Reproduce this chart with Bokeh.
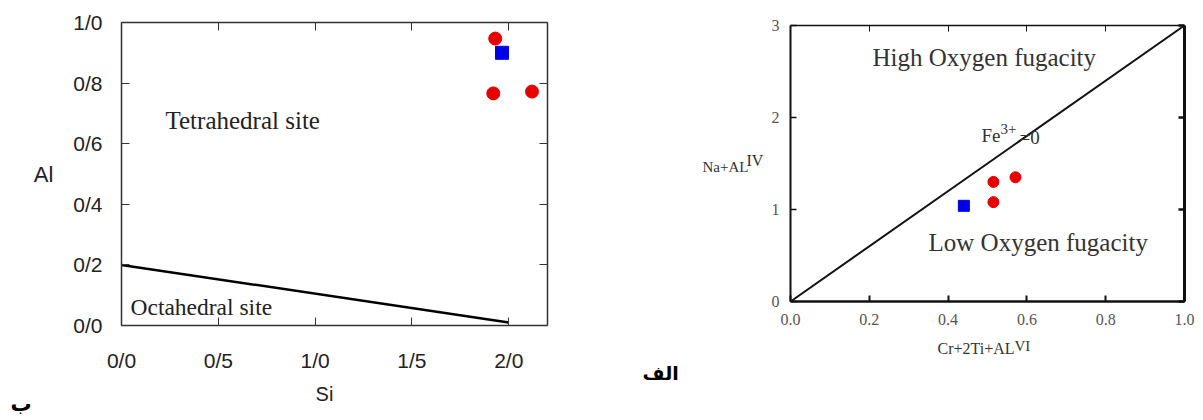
from bokeh.plotting import figure
from bokeh.models import LinearAxis, FixedTicker, Label, Range1d
from bokeh.layouts import row, column
from bokeh.embed import file_html
from bokeh.resources import INLINE

# ---------------- data: left chart (Si vs Al) ----------------
si_red = [1.93, 1.92, 2.12]
al_red = [0.947, 0.766, 0.772]
si_blue = [1.965]
al_blue = [0.90]
boundary_si = [0.0, 2.0]
boundary_al = [0.20, 0.01]
si_ticks = [0.0, 0.5, 1.0, 1.5, 2.0]
si_tick_labels = ["0/0", "0/5", "1/0", "1/5", "2/0"]
al_ticks = [0.0, 0.2, 0.4, 0.6, 0.8, 1.0]
al_tick_labels = ["0/0", "0/2", "0/4", "0/6", "0/8", "1/0"]

# ---------------- data: right chart (Cr+2Ti+AL^VI vs Na+AL^IV) ----------------
x_red = [0.515, 0.571, 0.515]
y_red = [1.30, 1.35, 1.08]
x_blue = [0.44]
y_blue = [1.04]
fe_x = [0.0, 1.0]
fe_y = [0.0, 3.0]
x2_ticks = [0.0, 0.2, 0.4, 0.6, 0.8, 1.0]
x2_tick_labels = ["0.0", "0.2", "0.4", "0.6", "0.8", "1.0"]
y2_ticks = [0, 1, 2, 3]
y2_tick_labels = ["0", "1", "2", "3"]

RED = "#e60000"
BLUE = "#0000e6"
SERIF = "Liberation Serif"
SANS = "Liberation Sans"


def style_axis(ax, ticks, labels, font, size, color, standoff, line_color, line_width, tick_len, show_labels=True):
    ax.ticker = FixedTicker(ticks=ticks)
    ax.minor_tick_line_color = None
    ax.major_tick_in = tick_len
    ax.major_tick_out = 0
    ax.major_tick_line_color = line_color
    ax.major_tick_line_width = max(1, line_width - 0.5)
    ax.axis_line_color = line_color
    ax.axis_line_width = line_width
    if show_labels:
        ax.major_label_overrides = {t: l for t, l in zip(ticks, labels)}
        ax.major_label_text_font = font
        ax.major_label_text_font_size = size
        ax.major_label_text_color = color
        ax.major_label_standoff = standoff
    else:
        # mirrored frame side: ticks only, labels not drawn
        ax.major_label_text_font_size = "1px"
        ax.major_label_text_color = None
        ax.major_label_text_alpha = 0
        ax.major_label_standoff = 0


def blank(fig):
    fig.grid.visible = False
    fig.outline_line_color = None
    fig.background_fill_color = "white"
    fig.border_fill_color = "white"


def text_strip(width, height, x0, y0):
    """A plain drawing area whose coordinates are page pixels (y downward)."""
    s = figure(width=width, height=height, x_range=Range1d(x0, x0 + width),
               y_range=Range1d(y0 + height, y0), output_backend="svg", toolbar_location=None,
               x_axis_location=None, y_axis_location=None,
               min_border=0, min_border_left=0, min_border_right=0,
               min_border_top=0, min_border_bottom=0, frame_align=False)
    blank(s)
    return s


def put(fig, x, y, t, font, size, color="#222222", style="normal", baseline="alphabetic", align="left"):
    fig.add_layout(Label(x=x, y=y, text=t, text_font=font, text_font_size=size,
                         text_font_style=style, text_color=color,
                         text_baseline=baseline, text_align=align))


# ================= left chart =================
p1 = figure(width=600, height=380, x_range=Range1d(0, 2.2), y_range=Range1d(0, 1.0),
            output_backend="svg", toolbar_location=None, frame_align=False,
            min_border_left=121, min_border_right=53, min_border_top=22, min_border_bottom=55)
blank(p1)

ax_b = p1.xaxis[0]
style_axis(ax_b, si_ticks, si_tick_labels, SANS, "21px", "#222222", 23, "#333333", 1.5, 8)
ax_l = p1.yaxis[0]
style_axis(ax_l, al_ticks, al_tick_labels, SANS, "21px", "#222222", 19, "#333333", 1.5, 8)
ax_l.axis_label = "Al"
ax_l.axis_label_orientation = "horizontal"
ax_l.axis_label_text_font = SANS
ax_l.axis_label_text_font_size = "22px"
ax_l.axis_label_text_font_style = "normal"
ax_l.axis_label_text_color = "#222222"
ax_l.axis_label_standoff = 17

ax_t = LinearAxis()
style_axis(ax_t, si_ticks, si_tick_labels, None, None, None, 0, "#333333", 1.5, 8, show_labels=False)
p1.add_layout(ax_t, "above")
ax_r = LinearAxis()
style_axis(ax_r, al_ticks, al_tick_labels, None, None, None, 0, "#333333", 1.5, 8, show_labels=False)
p1.add_layout(ax_r, "right")

p1.line(boundary_si, boundary_al, line_color="black", line_width=2.5)
p1.scatter(si_red, al_red, marker="circle", size=13, fill_color=RED, line_color=RED)
p1.scatter(si_blue, al_blue, marker="square", size=13, fill_color=BLUE, line_color=BLUE)

p1.add_layout(Label(x=44, y=205, x_units="screen", y_units="screen", text="Tetrahedral site",
                    text_font=SERIF, text_font_size="25px", text_color="#222222",
                    text_baseline="middle", text_align="left"))
p1.add_layout(Label(x=9, y=19, x_units="screen", y_units="screen", text="Octahedral site",
                    text_font=SERIF, text_font_size="23.5px", text_color="#222222",
                    text_baseline="middle", text_align="left"))

# strip below the left chart: x-axis title and panel letter
s1 = text_strip(600, 38, 0, 380)
put(s1, 324, 393, "Si", SANS, "20px", baseline="middle", align="center")
put(s1, 10, 403, "ب", "DejaVu Sans", "21px", color="black", style="bold")

# ================= middle strip: panel letter and right y-axis title =================
mid = text_strip(168, 418, 600, 0)
put(mid, 642, 372, "الف", "DejaVu Sans", "19px", color="black", style="bold")
put(mid, 702, 166, "Na+AL", SERIF, "15px", color="#333333")
put(mid, 746, 160, "IV", SERIF, "16px", color="#333333")

# ================= right chart =================
p2 = figure(width=432, height=331, x_range=Range1d(0, 1.0), y_range=Range1d(0, 3.0),
            output_backend="svg", toolbar_location=None, frame_align=False,
            min_border_left=20, min_border_right=16, min_border_top=25, min_border_bottom=30)
blank(p2)

bx = p2.xaxis[0]
style_axis(bx, x2_ticks, x2_tick_labels, SERIF, "16px", "#555555", 12, "#111111", 2.5, 6)
ly = p2.yaxis[0]
style_axis(ly, y2_ticks, y2_tick_labels, SERIF, "16px", "#555555", 11, "#111111", 2, 6)
tx = LinearAxis()
style_axis(tx, x2_ticks, x2_tick_labels, None, None, None, 0, "#111111", 1.5, 6, show_labels=False)
p2.add_layout(tx, "above")
ry = LinearAxis()
style_axis(ry, y2_ticks, y2_tick_labels, None, None, None, 0, "#111111", 3, 6, show_labels=False)
p2.add_layout(ry, "right")

p2.line(fe_x, fe_y, line_color="#111111", line_width=2)
p2.scatter(x_red, y_red, marker="circle", size=11, fill_color=RED, line_color=RED)
p2.scatter(x_blue, y_blue, marker="square", size=11, fill_color=BLUE, line_color=BLUE)

for (xx, yy, t, fs) in [
    (82, 244, "High Oxygen fugacity", "25px"),
    (138, 59, "Low Oxygen fugacity", "25px"),
    (191, 166, "Fe", "19px"),
    (210, 173, "3+", "15px"),
    (229, 164, "=0", "19px"),
]:
    p2.add_layout(Label(x=xx, y=yy, x_units="screen", y_units="screen", text=t,
                        text_font=SERIF, text_font_size=fs, text_color="#333333",
                        text_baseline="middle", text_align="left"))

# strip below the right chart: x-axis title
s3 = text_strip(432, 87, 768, 331)
put(s3, 937, 348, "Cr+2Ti+AL", SERIF, "16px", color="#333333")
put(s3, 1014, 345, "VI", SERIF, "15px", color="#333333")

layout = row(column(p1, s1), mid, column(p2, s3))
open("out.html", "w").write(file_html(layout, INLINE))
